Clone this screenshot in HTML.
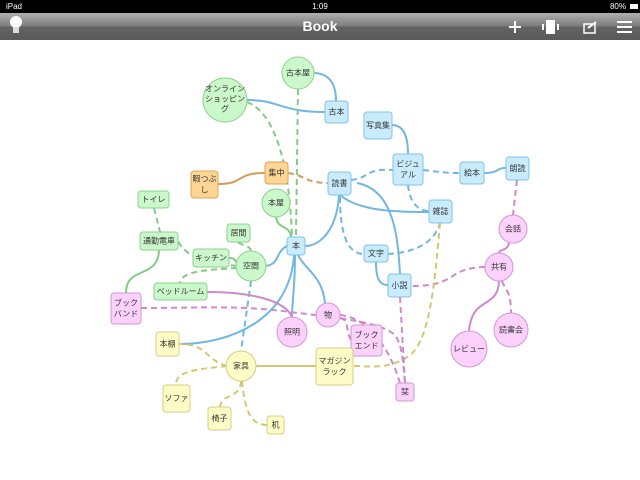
<!DOCTYPE html>
<html><head><meta charset="utf-8"><style>
html,body{margin:0;padding:0;width:640px;height:480px;overflow:hidden;background:#fff}
svg{display:block}
text{font-family:"Liberation Sans","Noto Sans CJK JP",sans-serif;font-size:8px;fill:#333;text-anchor:middle;dominant-baseline:central}
.b rect,.b circle{fill:#c9ecfd;stroke:#80c2ea}
.g rect,.g circle{fill:#cbf8cb;stroke:#8dd28d}
.o rect{fill:#fdd594;stroke:#e0a458}
.p rect,.p circle{fill:#fcd2fc;stroke:#d296d6}
.y rect,.y circle{fill:#fefcc6;stroke:#d8cc84}
path{fill:none;stroke-width:2}
.d{stroke-dasharray:6 4}
.lb{stroke:#72b6e2}.lg{stroke:#84ca84}.lo{stroke:#d89a5a}.lp{stroke:#cc8acc}.ly{stroke:#d6c672}
</style></head><body>
<svg width="640" height="480" viewBox="0 0 640 480">
<defs><linearGradient id="tb" x1="0" y1="0" x2="0" y2="1"><stop offset="0" stop-color="#b0b0b0"/><stop offset="0.5" stop-color="#7a7a7a"/><stop offset="0.5" stop-color="#646464"/><stop offset="1" stop-color="#5a5a5a"/></linearGradient></defs>
<rect x="0" y="0" width="640" height="13" fill="#000"/>
<text x="14" y="6.5" style="fill:#fff;font-size:8px">iPad</text>
<text x="320" y="6.5" style="fill:#fff;font-size:8px">1:09</text>
<text x="618" y="6.5" style="fill:#fff;font-size:8px">80%</text>
<rect x="630" y="4" width="8" height="5" fill="#fff"/>
<rect x="0" y="13" width="640" height="27" fill="url(#tb)"/>
<text x="320" y="26" style="fill:#fff;font-size:14px;font-weight:bold">Book</text>
<circle cx="16" cy="22" r="6" fill="#fff"/><rect x="13" y="27" width="6" height="6" fill="#ddd"/>
<path d="M509 27h12M515 21v12" stroke="#fff" stroke-width="2.5"/>
<rect x="546" y="20" width="9" height="14" fill="#fff"/><rect x="542" y="24" width="2" height="6" fill="#fff"/><rect x="557" y="24" width="2" height="6" fill="#fff"/>
<rect x="584" y="24" width="11" height="9" fill="none" stroke="#fff" stroke-width="1.5"/><path d="M588 28l8-6" stroke="#fff" stroke-width="2.5"/>
<path d="M617 22h15M617 27h15M617 32h15" stroke="#fff" stroke-width="2"/>

<!-- edges -->
<path class="lb" d="M313 73 C330 73 336 85 336 101"/>
<path class="lb" d="M247 100 C280 100 280 112 325 112"/>
<path class="lg d" d="M247 102 C280 115 290 180 292 237"/>
<path class="lg d" d="M298 89 L296 237"/>
<path class="lo" d="M218 184 C245 184 235 173 265 173"/>
<path class="lo d" d="M288 173 C305 175 305 183 328 183"/>
<path class="lb" d="M339 195 C337 230 320 246 305 246"/>
<path class="lb d" d="M351 180 C370 178 365 168 393 170"/>
<path class="lb" d="M340 195 C360 212 400 212 429 212"/>
<path class="lb" d="M357 183 C395 190 398 240 400 274"/>
<path class="lb d" d="M340 197 C340 240 350 254 364 254"/>
<path class="lb" d="M392 125 C405 125 408 140 408 154"/>
<path class="lb d" d="M423 170 C440 172 445 173 460 173"/>
<path class="lb d" d="M408 185 C410 205 420 211 429 211"/>
<path class="lb" d="M484 173 C500 173 495 168 506 168"/>
<path class="lp d" d="M517 180 L513 215"/>
<path class="lp" d="M509 243 C507 252 500 248 499 253"/>
<path class="lp d" d="M485 267 C445 268 460 286 411 286"/>
<path class="lp" d="M499 281 C498 310 472 295 469 331"/>
<path class="lp d" d="M502 281 C505 290 511 290 511 313"/>
<path class="lb d" d="M388 254 C420 252 435 240 440 223"/>
<path class="lb" d="M376 262 C376 280 380 285 388 285"/>
<path class="ly d" d="M440 223 C435 280 430 340 410 355 C390 370 370 366 353 366"/>
<path class="lp d" d="M400 297 L405 383"/>
<path class="lb" d="M266 266 C280 264 275 252 287 246"/>
<path class="lg" d="M276 217 C278 230 290 225 291 237"/>
<path class="lb" d="M298 255 C305 270 322 275 325 303"/>
<path class="lb" d="M295 255 C295 290 292 300 292 317"/>
<path class="lb" d="M294 255 C290 320 230 344 179 344"/>
<path class="lb d" d="M251 281 L241 351"/>
<path class="lg d" d="M251 251 C250 245 240 245 238 242"/>
<path class="lg" d="M237 264 C235 258 232 258 229 258"/>
<path class="lg d" d="M237 266 C200 262 185 255 178 241"/>
<path class="lg d" d="M237 268 C200 270 182 272 180 283"/>
<path class="lg d" d="M154 208 L160 232"/>
<path class="lg" d="M159 250 C158 280 126 265 126 293"/>
<path class="lp" d="M207 292 C250 292 285 300 292 317"/>
<path class="lp d" d="M141 308 C200 308 240 305 290 312 C340 318 380 322 395 335 C402 345 403 360 405 383"/>
<path class="lp d" d="M340 318 C350 320 345 330 351 340"/>
<path class="lp d" d="M340 315 C370 318 390 350 400 383"/>
<path class="ly" d="M256 366 L316 366"/>
<path class="ly d" d="M227 366 C205 360 208 344 179 344"/>
<path class="ly d" d="M227 366 C190 370 176 372 176 385"/>
<path class="ly d" d="M241 381 C240 400 222 392 220 407"/>
<path class="ly d" d="M242 381 C245 410 250 425 267 425"/>

<!-- nodes -->
<g class="b">
<rect x="325" y="101" width="23" height="22" rx="3"/><text x="336.5" y="112">古本</text>
<rect x="364" y="112" width="28" height="27" rx="3"/><text x="378" y="125.5">写真集</text>
<rect x="393" y="154" width="30" height="31" rx="3"/><text x="408" y="164">ビジュ</text><text x="408" y="175">アル</text>
<rect x="460" y="162" width="24" height="22" rx="3"/><text x="472" y="173">絵本</text>
<rect x="506" y="157" width="23" height="23" rx="3"/><text x="517.5" y="168.5">朗読</text>
<rect x="328" y="172" width="23" height="23" rx="3"/><text x="339.5" y="183.5">読書</text>
<rect x="429" y="200" width="23" height="23" rx="3"/><text x="440.5" y="211.5">雑誌</text>
<rect x="364" y="245" width="24" height="17" rx="3"/><text x="376" y="253.5">文字</text>
<rect x="388" y="274" width="23" height="23" rx="3"/><text x="399.5" y="285.5">小説</text>
<rect x="287" y="237" width="18" height="18" rx="3"/><text x="296" y="246">本</text>
</g>
<g class="g">
<circle cx="298" cy="73" r="16"/><text x="298" y="73">古本屋</text>
<circle cx="225" cy="100" r="22"/><text x="225" y="89">オンライン</text><text x="225" y="99">ショッピン</text><text x="225" y="109">グ</text>
<circle cx="276" cy="203" r="14"/><text x="276" y="203">本屋</text>
<rect x="138" y="191" width="31" height="17" rx="3"/><text x="153.5" y="199.5">トイレ</text>
<rect x="140" y="232" width="38" height="18" rx="3"/><text x="159" y="241">通勤電車</text>
<rect x="227" y="224" width="23" height="18" rx="3"/><text x="238.5" y="233">居間</text>
<rect x="193" y="249" width="36" height="18" rx="3"/><text x="211" y="258">キッチン</text>
<circle cx="251" cy="266" r="15"/><text x="251" y="266">空間</text>
<rect x="154" y="283" width="53" height="17" rx="3"/><text x="180.5" y="291.5">ベッドルーム</text>
</g>
<g class="o">
<rect x="191" y="171" width="27" height="27" rx="3"/><text x="204.5" y="179">暇つぶ</text><text x="204.5" y="190">し</text>
<rect x="265" y="162" width="23" height="22" rx="3"/><text x="276.5" y="173">集中</text>
</g>
<g class="p">
<rect x="111" y="293" width="30" height="31" rx="3"/><text x="126" y="303">ブック</text><text x="126" y="314">バンド</text>
<circle cx="292" cy="332" r="15"/><text x="292" y="332">照明</text>
<circle cx="328" cy="315" r="12"/><text x="328" y="315">物</text>
<rect x="351" y="325" width="31" height="31" rx="3"/><text x="366.5" y="335">ブック</text><text x="366.5" y="346">エンド</text>
<rect x="396" y="383" width="18" height="18" rx="3"/><text x="405" y="392">栞</text>
<circle cx="513" cy="229" r="14"/><text x="513" y="229">会話</text>
<circle cx="499" cy="267" r="14"/><text x="499" y="267">共有</text>
<circle cx="511" cy="330" r="17"/><text x="511" y="330">読書会</text>
<circle cx="469" cy="349" r="18"/><text x="469" y="349">レビュー</text>
</g>
<g class="y">
<rect x="156" y="332" width="23" height="24" rx="3"/><text x="167.5" y="344">本棚</text>
<circle cx="241" cy="366" r="15"/><text x="241" y="366">家具</text>
<rect x="316" y="348" width="37" height="37" rx="3"/><text x="334.5" y="361">マガジン</text><text x="334.5" y="372">ラック</text>
<rect x="163" y="385" width="27" height="27" rx="3"/><text x="176.5" y="398.5">ソファ</text>
<rect x="208" y="407" width="23" height="23" rx="3"/><text x="219.5" y="418.5">椅子</text>
<rect x="267" y="416" width="17" height="18" rx="3"/><text x="275.5" y="425">机</text>
</g>
</svg>
</body></html>
